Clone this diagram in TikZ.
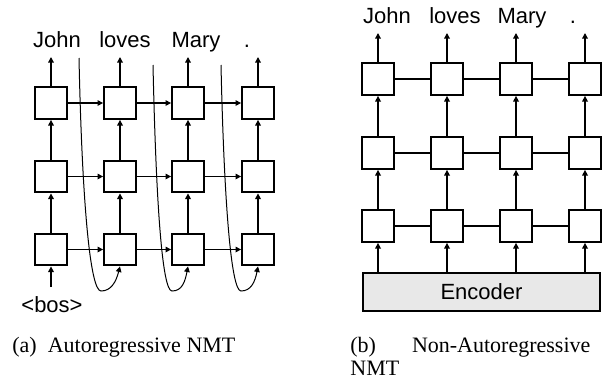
\documentclass[tikz,border=0pt]{standalone}
\usepackage{fontspec}
\setmainfont{Liberation Serif}
\setsansfont{Liberation Sans}
\usepackage{tikz}
\usetikzlibrary{arrows.meta}
\newcommand{\arr}{-{Triangle[length=2.8pt,width=2.8pt]}}

\tikzset{
  cell/.style={draw,line width=1.1pt,minimum size=15.8pt,inner sep=0pt},
  word/.style={font=\sffamily\fontsize{11}{13}\selectfont,anchor=base,inner sep=0pt},
  link/.style={line width=0.65pt},
  back/.style={line width=0.5pt},
  enc/.style={draw,line width=0.9pt,fill=gray!18,minimum width=118.5pt,minimum height=19pt,
    font=\sffamily\fontsize{11}{13}\selectfont},
  capt/.style={font=\fontsize{11}{11.5}\selectfont,inner sep=0pt}
}

\begin{document}
\begin{tikzpicture}[x=0.5pt,y=-0.5pt]
  \useasboundingbox (0,0) rectangle (605,381);
  % (a) autoregressive
  \foreach \c/\x in {1/51,2/120,3/188,4/258}{
    \foreach \r/\y in {1/249.5,2/176.5,3/103}
      \node[cell] (a\r\c) at (\x,\y) {};
    \coordinate (ao\c) at (\x,57);
    \draw[link,\arr] (a1\c.north) -- (a2\c.south);
    \draw[link,\arr] (a2\c.north) -- (a3\c.south);
    \draw[link,\arr] (a3\c.north) -- (ao\c);
  }
  \foreach \c/\d in {1/2,2/3,3/4}
    \foreach \r in {1,2,3}
      \draw[link,\arr] (a\r\c.east) -- (a\r\d.west);
  \node[word] (aw1) at (57,47) {John};
  \node[word] (aw2) at (125,47) {loves};
  \node[word] (aw3) at (196,47) {Mary};
  \node[word] (aw4) at (247,47) {.};
  \node[word] (bos) at (52,312) {<bos>};
  \coordinate (bi) at (51,287);
  \draw[link,\arr] (bi) -- (a11.south);
  \coordinate (s1) at (79,58);
  \coordinate (s2) at (153,65);
  \coordinate (s3) at (221,65);
  \draw[back,\arr] (s1) .. controls (82,200) and (90,291) .. (101,291) .. controls (111,291) and (116,282) .. (a12.south);
  \draw[back,\arr] (s2) .. controls (156,200) and (162,291) .. (172,291) .. controls (182,291) and (185,282) .. (a13.south);
  \draw[back,\arr] (s3) .. controls (224,200) and (231,291) .. (241,291) .. controls (251,291) and (255,282) .. (a14.south);
  % (b) non-autoregressive
  \node[enc] (enc) at (481.5,292) {Encoder};
  \foreach \c/\x in {1/378,2/447,3/516,4/585}{
    \foreach \r/\y in {1/226,2/153,3/79}
      \node[cell] (b\r\c) at (\x,\y) {};
    \coordinate (bo\c) at (\x,33);
    \draw[link,\arr] (enc.north -| b1\c) -- (b1\c.south);
    \draw[link,\arr] (b1\c.north) -- (b2\c.south);
    \draw[link,\arr] (b2\c.north) -- (b3\c.south);
    \draw[link,\arr] (b3\c.north) -- (bo\c);
  }
  \foreach \c/\d in {1/2,2/3,3/4}
    \foreach \r in {1,2,3}
      \draw[link] (b\r\c.east) -- (b\r\d.west);
  \node[word] (bw1) at (387,23) {John};
  \node[word] (bw2) at (455,23) {loves};
  \node[word] (bw3) at (522,23) {Mary};
  \node[word] (bw4) at (573,23) {.};
  % captions
  \node[capt,anchor=base west] (capa) at (12,352) {(a)\enspace Autoregressive NMT};
  \node[capt,align=left,anchor=north west] (capb) at (350,337) {\makebox[120pt][s]{(b) Non-Autoregressive}\\NMT};
\end{tikzpicture}
\end{document}
